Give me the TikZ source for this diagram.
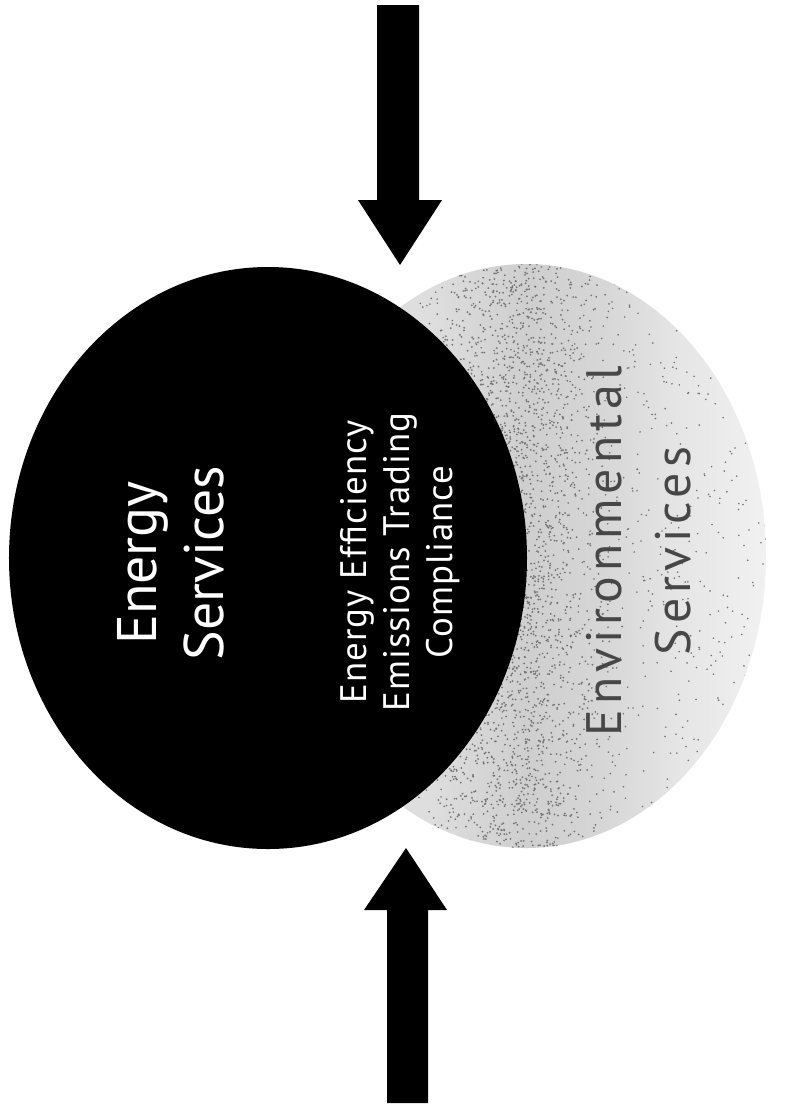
\documentclass[tikz,border=0pt]{standalone}
\usepackage{fontspec}
\setmainfont{PT Sans}
\usetikzlibrary{shapes.geometric}

% tone of the stippled blob: strongest just past the dark rim, fading out to the right
\pgfdeclarehorizontalshading{envshade}{100bp}{
  color(0bp)=(black!10);
  color(40bp)=(black!13);
  color(50bp)=(black!19);
  color(58bp)=(black!16);
  color(66bp)=(black!10);
  color(76bp)=(black!5);
  color(90bp)=(black!3);
  color(100bp)=(black!2)}

\tikzset{
  blockarrow/.style={fill=black},
  darkblob/.style={ellipse, fill=black, inner sep=0pt},
  greyblob/.style={ellipse, shading=envshade, inner sep=0pt},
  bigwhite/.style={rotate=90, align=center, text=white, font=\fontsize{56}{67}\selectfont},
  smallwhite/.style={rotate=90, align=center, text=white,
    font=\addfontfeatures{LetterSpace=3}\fontsize{37}{43}\selectfont},
  greytext/.style={rotate=90, align=center, text=black!72,
    font=\addfontfeatures{LetterSpace=10}\fontsize{50}{69}\selectfont},
  speck/.style={fill=black!55}
}

\begin{document}
\begin{tikzpicture}[x=1bp, y=-1bp]
  \useasboundingbox (0,0) rectangle (795,1107);
  \fill[white] (0,0) rectangle (795,1107);

  % environmental services blob with its stipple
  \node[greyblob, minimum width=480bp, minimum height=584bp] (env) at (526,556) {};
  \begin{scope}
    \clip (526,556) ellipse [x radius=240, y radius=292];
    \pgfmathsetseed{11}
    % sparse specks over the whole blob
    \foreach \i in {1,...,1000}{
      \pgfmathsetmacro{\px}{400+370*rnd}
      \pgfmathsetmacro{\py}{262+588*rnd}
      \fill[speck] (\px,\py) circle [radius=0.9];
    }
    % dense band of specks along the rim of the dark blob
    \foreach \i in {1,...,2400}{
      \pgfmathsetmacro{\px}{515+80*(rnd+rnd+rnd-1.5)}
      \pgfmathsetmacro{\py}{262+588*rnd}
      \fill[speck] (\px,\py) circle [radius=1.0];
    }
  \end{scope}

  % energy services blob
  \node[darkblob, minimum width=518bp, minimum height=582bp] (energy) at (268,558) {};

  % labels
  \node[bigwhite] (energylabel) at (171,563) {Energy\\Services};
  \node[smallwhite] (energylist) at (400,562) {Energy Efficiency\\Emissions Trading\\Compliance};
  \node[greytext] (envlabel) at (639,551) {Environmental\\Services};

  % pressure arrows
  \coordinate (toptip) at (400,265);
  \coordinate (bottip) at (406,848);
  \fill[blockarrow] (377,5) -- (419,5) -- (419,200) -- (442,200) -- (toptip)
    -- (358,200) -- (377,200) -- cycle;
  \fill[blockarrow] (387,1103) -- (428,1103) -- (428,910) -- (447,910) -- (bottip)
    -- (364,910) -- (387,910) -- cycle;
\end{tikzpicture}
\end{document}
